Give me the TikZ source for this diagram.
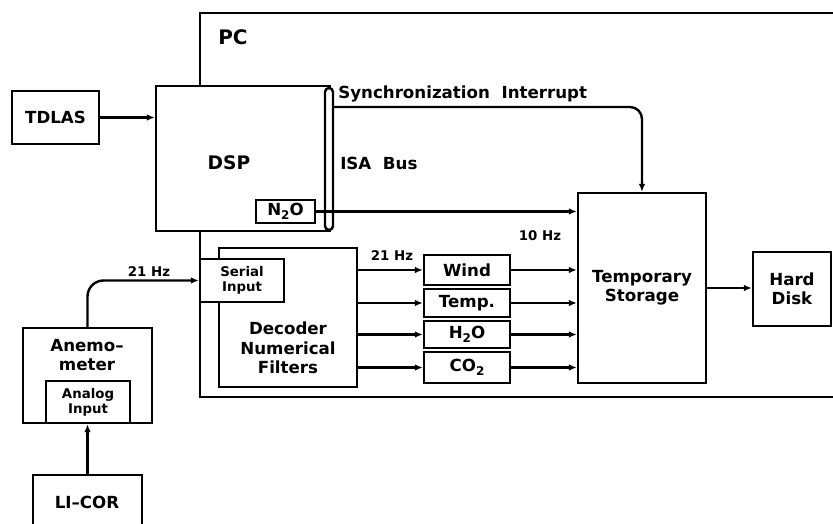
\documentclass[tikz,border=0pt]{standalone}
\usepackage{fontspec}
\setmainfont{DejaVu Sans}
\usetikzlibrary{arrows.meta,fit}
\newcommand\lowidx[1]{\raisebox{-0.45ex}{\fontsize{9}{9}\selectfont\bfseries #1}}
\begin{document}
\begin{tikzpicture}[x=0.75pt,y=-0.75pt,
  box/.style={draw, line width=1.8pt, fill=white, inner sep=0pt},
  big/.style={font=\fontsize{12.5}{14.5}\selectfont\bfseries, align=center, inner sep=0pt},
  small/.style={font=\fontsize{10}{11.5}\selectfont\bfseries, align=center, inner sep=0pt},
  wire/.style={line width=1.8pt},
  arr/.style={wire, -{Latex[length=6pt,width=5pt]}}]
\clip (0,0) rectangle (833,524);
\fill[white] (0,0) rectangle (833,524);
% PC frame
\coordinate (pcTR) at (860,13);
\coordinate (pcTL) at (200,13);
\coordinate (pcBL) at (200,397);
\coordinate (pcBR) at (860,397);
\draw[wire] (pcTR) -- (pcTL) -- (pcBL) -- (pcBR);
\node[font=\fontsize{15}{17}\selectfont\bfseries] (pcT) at (233,37) {PC};
% TDLAS and DSP
\node[box, fit={(12,91)(99,144)}] (tdlas) {};
\node[big] (tdlasT) at (tdlas.center) {TDLAS};
\node[box, fit={(156,86)(330,231)}] (dsp) {};
\node[font=\fontsize{14}{16}\selectfont\bfseries] (dspT) at (229,163) {DSP};
\node[box, fit={(256,200)(315,223)}] (n2o) {};
\node[big] (n2oT) at (n2o.center) {N\lowidx{2}O};
\node[box, rounded corners=3pt, fit={(325,88)(333,230)}] (isa) {};
\node[big, anchor=base west] (isaT) at (340,170) {ISA\ \ Bus};
\node[big, anchor=base west] (syncT) at (338,99) {Synchronization\ \ Interrupt};
% Temporary storage and hard disk
\node[box, fit={(578,193)(706,383)}] (ts) {};
\node[big] (tsT) at (642,288) {Temporary\\Storage};
\node[box, fit={(753,252)(831,326)}] (hd) {};
\node[big] (hdT) at (hd.center) {Hard\\Disk};
\node[small] (tenT) at (540,236) {10 Hz};
% Decoder and serial input
\node[box, fit={(219,248)(357,387)}] (dec) {};
\node[big] (decT) at (288,348) {Decoder\\Numerical\\Filters};
\node[box, fit={(200,259)(284,302)}] (ser) {};
\node[small] (serT) at (ser.center) {Serial\\Input};
\node[small] (hz21b) at (392,256) {21 Hz};
% Channel boxes
\node[box, fit={(424,255)(510,285)}] (wind) {};
\node[box, fit={(424,289)(510,317)}] (temp) {};
\node[box, fit={(424,321)(510,348)}] (h2o) {};
\node[box, fit={(424,352)(510,383)}] (co2) {};
\node[big] (windT) at (wind.center) {Wind};
\node[big] (tempT) at (temp.center) {Temp.};
\node[big] (h2oT) at (h2o.center) {H\lowidx{2}O};
\node[big] (co2T) at (co2.center) {CO\lowidx{2}};
% Anemometer and LI-COR
\node[box, fit={(23,328)(152,423)}] (anem) {};
\node[big] (anemT) at (87,355) {Anemo--\\meter};
\node[box, fit={(46,381)(130,423)}] (analog) {};
\node[small] (analogT) at (analog.center) {Analog\\Input};
\node[box, fit={(33,475)(142,545)}] (licor) {};
\node[big] (licorT) at (87,502) {LI--COR};
\node[small] (hz21a) at (149,272) {21 Hz};
% Connectors
\coordinate (syncY) at (0,107);
\draw[arr] (tdlas.east) -- (tdlas.east -| dsp.west);
\draw[arr, rounded corners=9pt] (syncY -| isa.east) -| (ts.north);
\draw[arr] (n2o.east) -- (n2o.east -| ts.west);
\draw[arr] (ts.east) -- (ts.east -| hd.west);
\foreach \b in {wind,temp,h2o,co2}{
  \draw[arr] (dec.east |- \b.west) -- (\b.west);
  \draw[arr] (\b.east) -- (\b.east -| ts.west);
}
\draw[arr, rounded corners=12pt] (anem.north) |- (ser.west);
\draw[arr] (licor.north) -- (licor.north |- analog.south);
\end{tikzpicture}
\end{document}
